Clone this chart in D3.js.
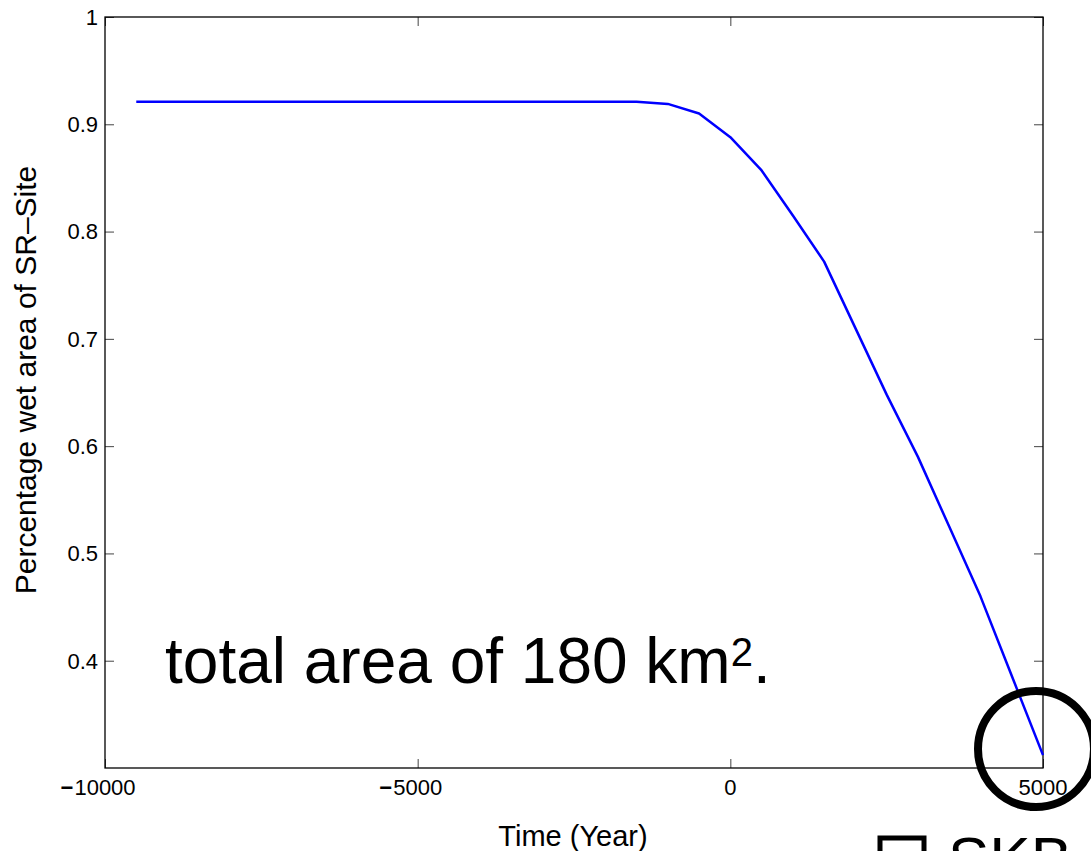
<!DOCTYPE html>
<html>
<head>
<meta charset="utf-8">
<script src="https://cdn.jsdelivr.net/npm/d3@7"></script>
<style>
  body { margin: 0; background: #fff; }
  svg { display: block; font-family: "Liberation Sans", Arial, sans-serif; }
</style>
</head>
<body>
<div id="chart"></div>
<script>
// Data
var years = [-9500, -9000, -8500, -8000, -7500, -7000, -6500, -6000, -5500, -5000,
  -4500, -4000, -3500, -3000, -2500, -2000, -1500, -1000, -500, 0,
  500, 1000, 1500, 2000, 2500, 3000, 3500, 4000, 4500, 5000];
var wetArea = [0.921, 0.921, 0.921, 0.921, 0.921, 0.921, 0.921, 0.921, 0.921, 0.921,
  0.921, 0.921, 0.921, 0.921, 0.921, 0.921, 0.921, 0.919, 0.910, 0.888,
  0.857, 0.815, 0.772, 0.710, 0.648, 0.590, 0.525, 0.460, 0.386, 0.312];
var xTicks = [-10000, -5000, 0, 5000];
var yTicks = [0.4, 0.5, 0.6, 0.7, 0.8, 0.9, 1];

var svgWidth = 1091;
var svgHeight = 851;

var chartMargin = { top: 17, right: 48, bottom: 83, left: 105 };
var chartWidth = svgWidth - chartMargin.left - chartMargin.right;
var chartHeight = svgHeight - chartMargin.top - chartMargin.bottom;

var svg = d3.select("#chart")
  .append("svg")
  .attr("width", svgWidth)
  .attr("height", svgHeight);

var chartGroup = svg.append("g")
  .attr("transform", `translate(${chartMargin.left}, ${chartMargin.top})`);

var xScale = d3.scaleLinear().domain([-10000, 5000]).range([0, chartWidth]);
var yScale = d3.scaleLinear().domain([0.3, 1]).range([chartHeight, 0]);

var data = years.map((y, i) => ({ year: y, value: wetArea[i] }));

// ticks pointing inward on all four sides (no labels on top/right)
var tickLen = 9;
function tickLines(axis) {
  return axis.tickSizeInner(-tickLen).tickSizeOuter(0).tickFormat("");
}

chartGroup.append("g")
  .attr("transform", `translate(0, ${chartHeight})`)
  .call(tickLines(d3.axisBottom(xScale).tickValues(xTicks)));
chartGroup.append("g")
  .call(tickLines(d3.axisTop(xScale).tickValues(xTicks)));
chartGroup.append("g")
  .call(tickLines(d3.axisLeft(yScale).tickValues(yTicks)));
chartGroup.append("g")
  .attr("transform", `translate(${chartWidth}, 0)`)
  .call(tickLines(d3.axisRight(yScale).tickValues(yTicks)));

chartGroup.selectAll(".domain").remove();
chartGroup.selectAll(".tick line").attr("stroke", "#444").attr("stroke-width", 1);

// box
chartGroup.append("rect")
  .attr("x", 0).attr("y", 0)
  .attr("width", chartWidth).attr("height", chartHeight)
  .attr("fill", "none")
  .attr("stroke", "#000")
  .attr("stroke-width", 1.3);

// x tick labels: digits centred on the tick, minus sign hangs to the left
xTicks.forEach(function(t) {
  var lbl = chartGroup.append("text")
    .attr("x", xScale(t))
    .attr("y", chartHeight + 27)
    .attr("text-anchor", "middle")
    .attr("font-size", 22)
    .text(Math.abs(t));
  if (t < 0) {
    var w = lbl.node().getComputedTextLength();
    chartGroup.append("text")
      .attr("x", xScale(t) - w / 2 - 1)
      .attr("y", chartHeight + 27)
      .attr("text-anchor", "end")
      .attr("font-size", 22)
      .attr("font-weight", 700)
      .text("\u2212");
  }
});

// y tick labels
chartGroup.selectAll(".ylabel")
  .data(yTicks)
  .enter()
  .append("text")
  .attr("x", -7)
  .attr("y", d => yScale(d))
  .attr("dy", "0.36em")
  .attr("text-anchor", "end")
  .attr("font-size", 22)
  .text(d => d === 1 ? "1" : d3.format(".1f")(d));

// line
var line = d3.line()
  .x(d => xScale(d.year))
  .y(d => yScale(d.value));

chartGroup.append("path")
  .datum(data)
  .attr("d", line)
  .attr("fill", "none")
  .attr("stroke", "#0000ff")
  .attr("stroke-width", 2.5)
  .attr("stroke-linejoin", "round");

// axis titles
svg.append("text")
  .attr("x", 573)
  .attr("y", 846)
  .attr("text-anchor", "middle")
  .attr("font-size", 29)
  .text("Time (Year)");

svg.append("text")
  .attr("transform", "translate(36, 380) rotate(-90)")
  .attr("text-anchor", "middle")
  .attr("font-size", 30)
  .text("Percentage wet area of SR\u2013Site");

// overlaid slide caption
var caption = svg.append("text")
  .attr("x", 165)
  .attr("y", 683)
  .attr("font-size", 64)
  .attr("fill", "#000");
caption.append("tspan").text("total area of 180 km");
caption.append("tspan").attr("font-size", 40).attr("dy", -17).text("2");
caption.append("tspan").attr("dy", 17).text(".");

// highlight circle at the end point
svg.append("circle")
  .attr("cx", chartMargin.left + xScale(5000) - 7)
  .attr("cy", chartMargin.top + yScale(0.3) - 19)
  .attr("r", 58)
  .attr("fill", "none")
  .attr("stroke", "#000")
  .attr("stroke-width", 8);

// SKB logo, cut by the bottom edge as in the source slide
svg.append("rect")
  .attr("x", 880).attr("y", 838)
  .attr("width", 44).attr("height", 40)
  .attr("fill", "none")
  .attr("stroke", "#000")
  .attr("stroke-width", 5);
svg.append("text")
  .attr("x", 948)
  .attr("y", 880)
  .attr("font-size", 62)
  .text("SKB");
</script>
</body>
</html>
